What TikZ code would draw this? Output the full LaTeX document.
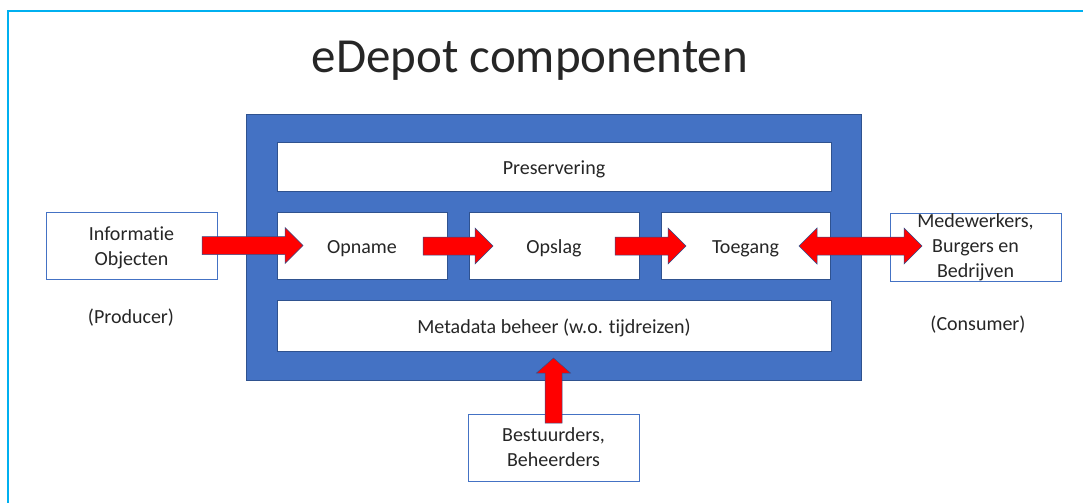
\documentclass[tikz,border=0pt]{standalone}
\usepackage{fontspec}
\setmainfont{Carlito}[Ligatures=NoCommon]
\usetikzlibrary{positioning}
\usetikzlibrary{calc}
\definecolor{frame}{RGB}{0,176,240}
\definecolor{ppblue}{RGB}{68,114,196}
\definecolor{ppdark}{RGB}{47,82,143}
\definecolor{pptext}{RGB}{38,38,38}
\tikzset{
        every node/.style={align=center,inner sep=0pt,outer sep=0pt,text=pptext},
        inner/.style={draw=ppdark,line width=0.4pt,fill=white,font=\fontsize{20}{25}\selectfont,text height=15pt,text depth=0pt},
        outbox/.style={draw=ppblue,line width=0.8pt,fill=white,font=\fontsize{20}{25}\selectfont},
        blockarrow/.style={draw=ppdark,line width=0.5pt,fill=red},
        }
% horizontal block arrow, start to tip (pointing right)
\newcommand{\rarrow}[2]{%
  \draw[blockarrow] let \p1=(#1), \p2=(#2) in
    (\x1,\y1+9pt) -- (\x2-18pt,\y1+9pt) -- (\x2-18pt,\y1+18pt) -- (\x2,\y1)
    -- (\x2-18pt,\y1-18pt) -- (\x2-18pt,\y1-9pt) -- (\x1,\y1-9pt) -- cycle;}

\begin{document}
\begin{tikzpicture}[x=1pt,y=-1pt]
			\useasboundingbox (0,0) rectangle (1083,503);
			% frame
			\draw [frame, line width=1.2pt] (1083,11) -- (8,11) -- (8,503);

			% title
			\node (title) [anchor=base, text=black!85, font=\fontsize{49}{52}\selectfont] at (530,72.5) {eDepot componenten};

			% eDepot block
			\node (edepot) [draw=ppdark, line width=0.5pt, fill=ppblue, minimum width=615, minimum height=266] at (553.5,247) {};
			\node (pres) [inner, minimum width=554, minimum height=49] at (554,166.5) {Preservering};
			\node (opname) [inner, minimum width=170, minimum height=67] at (362,246) {Opname};
			\node (opslag) [inner, minimum width=170, minimum height=67] at (554,246) {Opslag};
			\node (toegang) [inner, minimum width=169, minimum height=67] at (745.5,246) {Toegang};
			\node (meta) [inner, minimum width=554, minimum height=51] at (554,325.5) {Metadata beheer (w.o. tijdreizen)};

			% outside parties
			\node (info) [outbox, text height=40pt, text depth=0pt, minimum width=171, minimum height=67] at (131.5,245.5) {Informatie\\Objecten};
			\node (mede) [outbox, minimum width=171, minimum height=68] at (975.5,247) {Medewerkers,\\Burgers en\\Bedrijven};
			\node (bestuur) [outbox, minimum width=171, minimum height=67] at (553.5,447.5) {Bestuurders,\\Beheerders};
			\node (producer) [font=\fontsize{20}{25}\selectfont] at (131,318) {(Producer)};
			\node (consumer) [font=\fontsize{20}{25}\selectfont] at (978,325) {(Consumer)};

			% flow arrows
			\rarrow{$(info.east)+(-15,0)$}{$(opname.west)+(26,0)$}
			\rarrow{$(opname.east)+(-24,0)$}{$(opslag.west)+(24,0)$}
			\rarrow{$(opslag.east)+(-24,0)$}{$(toegang.west)+(25,0)$}

			% two way arrow
			\draw [blockarrow] let \p1=($(toegang.east)+(-31,0)$), \p2=($(mede.west)+(32,0)$) in
				(\x1,\y1) -- (\x1+18pt,\y1+18pt) -- (\x1+18pt,\y1+9pt) -- (\x2-18pt,\y1+9pt) -- (\x2-18pt,\y1+18pt) -- (\x2,\y1)
				-- (\x2-18pt,\y1-18pt) -- (\x2-18pt,\y1-9pt) -- (\x1+18pt,\y1-9pt) -- (\x1+18pt,\y1-18pt) -- cycle;

			% upward arrow
			\draw [blockarrow] let \p1=($(bestuur.north)+(0,9)$), \p2=($(meta.south)+(0,7)$) in
				(\x1-8.5pt,\y1) -- (\x1-8.5pt,\y2-15pt) -- (\x1-17pt,\y2-15pt) -- (\x1,\y2)
				-- (\x1+17pt,\y2-15pt) -- (\x1+8.5pt,\y2-15pt) -- (\x1+8.5pt,\y1) -- cycle;
		\end{tikzpicture}
\end{document}
